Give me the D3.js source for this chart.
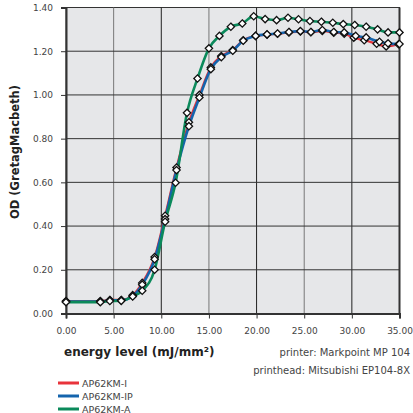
<!DOCTYPE html>
<html>
<head>
<meta charset="utf-8">
<script src="https://cdn.jsdelivr.net/npm/d3@7"></script>
<style>
  body { margin: 0; background: #fff; }
  svg { display: block; font-family: "DejaVu Sans", Verdana, sans-serif; }
</style>
</head>
<body>
<svg id="chart" width="413" height="413"></svg>
<script>
// series names and colours
const seriesNames = ["AP62KM-I", "AP62KM-IP", "AP62KM-A"];
const seriesColors = ["#e8333b", "#1464ad", "#0b8a5b"];

// energy level (mJ/mm2) per series
const energyI = [0, 3.6, 4.6, 5.8, 7.0, 8.0, 9.3, 10.4, 11.6, 12.9, 14.0, 15.2, 16.3, 17.5, 18.6, 19.9, 21.1, 22.2, 23.4, 24.6, 25.7, 26.9, 28.1, 29.2, 30.2, 31.3, 32.6, 33.6, 34.9];
const energyIP = [0, 3.6, 4.6, 5.8, 7.0, 8.0, 9.3, 10.4, 11.6, 12.9, 14.0, 15.2, 16.3, 17.5, 18.6, 19.9, 21.1, 22.2, 23.4, 24.6, 25.7, 26.9, 28.1, 29.2, 30.4, 31.5, 32.9, 33.8, 35.0];
const energyA = [0, 3.6, 4.6, 5.8, 7.0, 8.0, 9.3, 10.4, 11.5, 12.7, 13.8, 15.0, 16.1, 17.3, 18.5, 19.7, 20.9, 22.1, 23.3, 24.4, 25.6, 26.8, 28.0, 29.1, 30.3, 31.5, 32.7, 33.8, 35.0];

// optical density readings
const odI = [0.057, 0.057, 0.062, 0.062, 0.084, 0.14, 0.258, 0.447, 0.668, 0.875, 1.0, 1.126, 1.178, 1.205, 1.25, 1.27, 1.276, 1.28, 1.286, 1.29, 1.287, 1.293, 1.285, 1.28, 1.262, 1.25, 1.234, 1.222, 1.232];
const odIP = [0.055, 0.055, 0.06, 0.06, 0.08, 0.132, 0.248, 0.432, 0.656, 0.857, 0.988, 1.118, 1.173, 1.202, 1.248, 1.27, 1.277, 1.281, 1.288, 1.292, 1.288, 1.297, 1.288, 1.286, 1.27, 1.263, 1.243, 1.236, 1.233];
const odA = [0.052, 0.052, 0.057, 0.058, 0.078, 0.104, 0.2, 0.42, 0.598, 0.918, 1.075, 1.213, 1.27, 1.312, 1.327, 1.36, 1.347, 1.342, 1.353, 1.346, 1.338, 1.335, 1.33, 1.324, 1.32, 1.312, 1.3, 1.286, 1.286];

const xTicks = [0, 5, 10, 15, 20, 25, 30, 35];
const yTicks = [0, 0.2, 0.4, 0.6, 0.8, 1.0, 1.2, 1.4];

const svg = d3.select("#chart");
const plotLeft = 66, plotRight = 399.5, plotTop = 7.5, plotBottom = 313.5;

const x = d3.scaleLinear().domain([0, 35]).range([plotLeft, plotRight]);
const y = d3.scaleLinear().domain([0, 1.4]).range([plotBottom, plotTop]);

// plot background
svg.append("rect")
  .attr("x", plotLeft).attr("y", plotTop)
  .attr("width", plotRight - plotLeft).attr("height", plotBottom - plotTop)
  .attr("fill", "#e6e7e9")
  .attr("stroke", "#333").attr("stroke-width", 1);

// gridlines
svg.append("g").selectAll("line").data(xTicks.slice(1, -1)).join("line")
  .attr("x1", d => x(d)).attr("x2", d => x(d))
  .attr("y1", plotTop).attr("y2", plotBottom)
  .attr("stroke", (d, i) => i % 2 ? "#222" : "#777").attr("stroke-width", 1);
svg.append("g").selectAll("line").data(yTicks.slice(1, -1)).join("line")
  .attr("y1", d => y(d)).attr("y2", d => y(d))
  .attr("x1", plotLeft).attr("x2", plotRight)
  .attr("stroke", "#333").attr("stroke-width", 1);

// right border
svg.append("line").attr("x1", plotRight).attr("x2", plotRight).attr("y1", plotTop).attr("y2", plotBottom)
  .attr("stroke", "#333").attr("stroke-width", 2);

// axes
const xAxis = d3.axisBottom(x).tickValues(xTicks).tickFormat(d3.format(".2f")).tickSize(5).tickPadding(9);
const yAxis = d3.axisLeft(y).tickValues(yTicks).tickFormat(d3.format(".2f")).tickSize(5).tickPadding(8);

const gx = svg.append("g").attr("transform", `translate(0,${plotBottom})`).call(xAxis);
const gy = svg.append("g").attr("transform", `translate(${plotLeft},0)`).call(yAxis);
[gx, gy].forEach(g => {
  g.select(".domain").attr("stroke", "#333").attr("stroke-width", 2);
  g.selectAll(".tick line").attr("stroke", "#333");
  g.selectAll(".tick text").attr("fill", "#444").style("font-size", "9px")
    .style("font-family", "'DejaVu Sans', Verdana, sans-serif");
});

// axis titles
svg.append("text")
  .attr("x", 64).attr("y", 356)
  .attr("font-size", "12px").attr("font-weight", "bold").attr("fill", "#222")
  .text("energy level (mJ/mm²)");

svg.append("text")
  .attr("transform", "translate(19,152) rotate(-90)")
  .attr("text-anchor", "middle")
  .attr("font-size", "11.5px").attr("font-weight", "bold").attr("fill", "#222")
  .text("OD (GretagMacbeth)");

svg.append("text").attr("x", 410).attr("y", 356).attr("text-anchor", "end")
  .attr("font-size", "10px").attr("fill", "#444").text("printer: Markpoint MP 104");
svg.append("text").attr("x", 410).attr("y", 374).attr("text-anchor", "end")
  .attr("font-size", "10px").attr("fill", "#444").text("printhead: Mitsubishi EP104-8X");

// series
const data = [
  energyI.map((e, i) => [e, odI[i]]),
  energyIP.map((e, i) => [e, odIP[i]]),
  energyA.map((e, i) => [e, odA[i]])
];

const line = d3.line().x(d => x(d[0])).y(d => y(d[1])).curve(d3.curveMonotoneX);
const diamond = d3.symbol().type(d3.symbolDiamond2).size(34);

data.forEach((pts, s) => {
  svg.append("path").datum(pts)
    .attr("d", line)
    .attr("fill", "none")
    .attr("stroke", seriesColors[s])
    .attr("stroke-width", s === 0 ? 2.2 : 2.6);
});
data.forEach(pts => {
  svg.append("g").selectAll("path").data(pts).join("path")
    .attr("transform", d => `translate(${x(d[0])},${y(d[1])})`)
    .attr("d", diamond)
    .attr("fill", "#fff")
    .attr("stroke", "#111").attr("stroke-width", 1.3);
});

// legend
const legend = svg.append("g");
seriesNames.forEach((name, i) => {
  const ly = 383 + i * 13;
  legend.append("line").attr("x1", 58).attr("x2", 79).attr("y1", ly).attr("y2", ly)
    .attr("stroke", seriesColors[i]).attr("stroke-width", 3);
  legend.append("text").attr("x", 82).attr("y", ly + 3.5)
    .attr("font-size", "9.5px").attr("fill", "#444").text(name);
});
</script>
</body>
</html>
